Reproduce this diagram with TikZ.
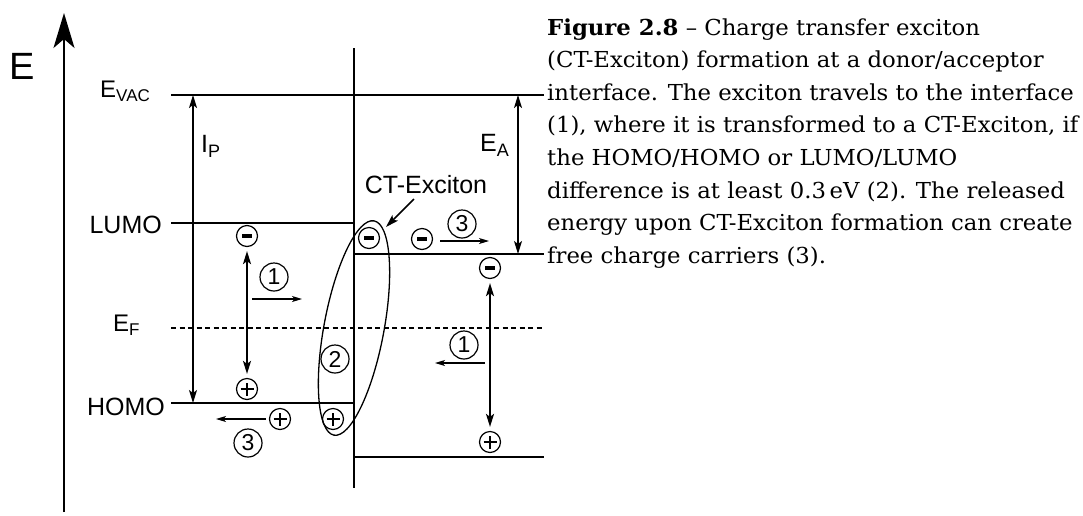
\documentclass[tikz,border=0pt]{standalone}
\usepackage{fontspec}
\setmainfont{DejaVu Serif}[FakeStretch=1.035]
\newfontfamily\arialf{Liberation Sans}
\usetikzlibrary{arrows.meta}
\begin{document}
\begin{tikzpicture}[x=1pt,y=-1pt,
  lvl/.style={line width=1.5pt},
  lbl/.style={font=\arialf\fontsize{25}{25}\selectfont, inner sep=0pt},
  num/.style={draw, circle, line width=1.2pt, minimum size=28pt, inner sep=0pt, font=\arialf\fontsize{23}{23}\selectfont},
  chg/.style={draw, circle, line width=1.2pt, minimum size=21pt, inner sep=0pt},
  minusc/.style={chg, path picture={\fill ([xshift=-5pt,yshift=-2pt]path picture bounding box.center) rectangle ++(10pt,4pt);}},
  plusc/.style={chg, path picture={\draw[line width=2.3pt] ([xshift=-6.5pt]path picture bounding box.center) -- ++(13pt,0pt); \draw[line width=2.3pt] ([yshift=-6.5pt]path picture bounding box.center) -- ++(0pt,13pt);}},
  captxt/.style={anchor=base west, inner sep=0pt, font=\fontsize{22}{26}\selectfont},
  bigarrow/.style={line width=2pt, -{Stealth[length=35pt, width=21pt, inset=9pt]}},
  dblthick/.style={line width=2pt, {Stealth[length=13pt,width=8pt,inset=3pt]}-{Stealth[length=13pt,width=8pt,inset=3pt]}},
  dblthin/.style={line width=1.5pt, {Stealth[length=13pt,width=8pt,inset=3pt]}-{Stealth[length=13pt,width=8pt,inset=3pt]}},
  smallarrow/.style={line width=1.2pt, -{Stealth[length=10pt,width=6pt,inset=2.5pt]}},
]
\useasboundingbox (0,0) rectangle (1083,515);

% energy axis
\coordinate (axb) at (64,512);
\coordinate (axt) at (64,13);
\draw[bigarrow] (axb) -- (axt);
\node[lbl, font=\arialf\fontsize{38}{38}\selectfont] (E) at (22,66) {E};

% interface
\coordinate (ift) at (354,48);
\coordinate (ifb) at (354,488);
\draw[line width=2pt] (ift) -- (ifb);

% levels
\coordinate (vacL) at (171,95);   \coordinate (vacR) at (544,95);
\coordinate (luL) at (171,223);   \coordinate (luM) at (354,223);
\coordinate (luaM) at (354,254);  \coordinate (luaR) at (544,254);
\coordinate (efL) at (171,328);   \coordinate (efR) at (544,328);
\coordinate (hoL) at (171,403);   \coordinate (hoM) at (354,403);
\coordinate (hoaM) at (354,457);  \coordinate (hoaR) at (544,457);
\draw[lvl] (vacL) -- (vacR);
\draw[lvl] (luL) -- (luM);
\draw[lvl] (luaM) -- (luaR);
\draw[lvl, dash pattern=on 5pt off 3.5pt] (efL) -- (efR);
\draw[lvl] (hoL) -- (hoM);
\draw[lvl] (hoaM) -- (hoaR);

% level labels
\node[lbl, anchor=base west, font=\arialf\fontsize{24}{24}\selectfont] (evac) at (100,97) {E\raisebox{-4pt}{\fontsize{17}{17}\selectfont VAC}};
\node[lbl, anchor=base east] (lumo) at (162,233) {LUMO};
\node[lbl, anchor=base east] (homo) at (165,415) {HOMO};
\node[lbl, anchor=base west, font=\arialf\fontsize{24}{24}\selectfont] (ef) at (113,331) {E\raisebox{-4pt}{\fontsize{17}{17}\selectfont F}};

% IP and EA
\coordinate (ipt) at (193,95);  \coordinate (ipb) at (193,403);
\draw[dblthin] (ipt) -- (ipb);
\node[lbl, anchor=base west] (ip) at (201,152) {I\raisebox{-5pt}{\fontsize{18}{18}\selectfont P}};
\coordinate (eat) at (518,95);  \coordinate (eab) at (518,254);
\draw[dblthin] (eat) -- (eab);
\node[lbl, anchor=base west] (ea) at (480,151) {E\raisebox{-5pt}{\fontsize{18}{18}\selectfont A}};

% donor exciton
\node[minusc] (mL) at (247,236) {};
\node[plusc] (pL) at (247,389) {};
\draw[dblthick, shorten <=4pt, shorten >=4pt] (mL) -- (pL);
\node[num] (n1L) at (274,277) {1};
\coordinate (a1s) at (252,299); \coordinate (a1e) at (302,299);
\draw[smallarrow] (a1s) -- (a1e);

% hole transport (3) donor
\node[plusc] (pL3) at (280,419) {};
\coordinate (a3Le) at (216,419);
\draw[smallarrow, shorten <=3pt] (pL3) -- (a3Le);
\node[num] (n3L) at (248,443) {3};

% CT exciton
\node[minusc] (ctm) at (369,238) {};
\node[plusc] (ctp) at (333,419) {};
\node[num] (n2) at (335,359) {2};
\draw[line width=1.3pt, rotate around={79.4:(354,328)}] (354,328) ellipse [x radius=109pt, y radius=30pt];
\node[lbl, anchor=base] (cttxt) at (426,193) {CT-Exciton};
\coordinate (cts) at (414,199); \coordinate (cte) at (386,227);
\draw[line width=1.5pt, -{Stealth[length=13pt,width=8pt,inset=3pt]}] (cts) -- (cte);

% electron transport (3) acceptor
\node[minusc] (mR3) at (422,239) {};
\coordinate (a3Rs) at (440,241); \coordinate (a3Re) at (489,241);
\draw[smallarrow] (a3Rs) -- (a3Re);
\node[num] (n3R) at (462,224) {3};

% acceptor exciton
\node[minusc] (mR) at (490,268) {};
\node[plusc] (pR) at (490,442) {};
\draw[dblthick, shorten <=4pt, shorten >=4pt] (mR) -- (pR);
\node[num] (n1R) at (464,345) {1};
\coordinate (a1Rs) at (485,363); \coordinate (a1Re) at (435,363);
\draw[smallarrow] (a1Rs) -- (a1Re);

% caption
\node[captxt] (c1) at (547,35) {\textbf{Figure 2.8} – Charge transfer exciton};
\node[captxt] (c2) at (547,67.6) {(CT-Exciton) formation at a donor/acceptor};
\node[captxt] (c3) at (547,100.2) {interface. The exciton travels to the interface};
\node[captxt] (c4) at (547,132.8) {(1), where it is transformed to a CT-Exciton, if};
\node[captxt] (c5) at (547,165.4) {the HOMO/HOMO or LUMO/LUMO};
\node[captxt] (c6) at (547,198) {difference is at least 0.3\,eV (2). The released};
\node[captxt] (c7) at (547,230.6) {energy upon CT-Exciton formation can create};
\node[captxt] (c8) at (547,263.2) {free charge carriers (3).};
\end{tikzpicture}
\end{document}
